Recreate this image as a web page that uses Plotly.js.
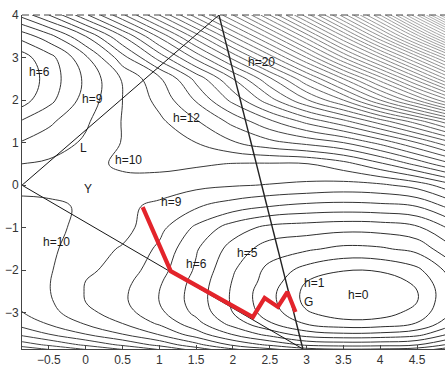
<!DOCTYPE html>
<html><head><meta charset="utf-8">
<script src="https://cdn.plot.ly/plotly-3.0.1.min.js"></script>
<style>html,body{margin:0;padding:0;background:#fff;}#chart{width:445px;height:367px;}</style>
</head><body><div id="chart"></div>
<script>
// grid coordinates of the height field
const gridX = [-1, -0.5, 0, 0.5, 1, 1.5, 2, 2.5, 3, 3.5, 4, 4.5, 5];
const gridY = [-4, -3.75, -3.5, -3.25, -3, -2.75, -2.5, -2.25, -2, -1.5, -1, -0.5, 0, 0.5, 1, 1.5, 2, 2.5, 3, 3.5, 4];
// one row of estimated heights per y value
const hRowM400 = [17.5, 16.5, 15.5, 14.5, 13.5, 12.2, 10.9, 10.1, 9.4, 9.0, 9.1, 9.4, 10.6];
const hRowM375 = [14.8, 13.8, 12.8, 11.8, 10.7, 9.3, 7.8, 6.8, 5.8, 5.6, 5.65, 5.94, 7.35];
const hRowM350 = [13.0, 12.0, 11.0, 10.0, 8.9, 7.45, 5.9, 4.6, 3.45, 3.15, 3.23, 3.6, 5.2];
const hRowM325 = [11.9, 10.9, 9.9, 9.0, 7.85, 6.35, 4.6, 3.1, 1.9, 1.35, 1.43, 2.05, 3.76];
const hRowM300 = [11.3, 10.35, 9.3, 8.45, 7.25, 5.75, 4.0, 2.5, 1.1, 0.48, 0.56, 1.35, 3.2];
const hRowM275 = [11.0, 10.15, 9.0, 8.2, 7.0, 5.55, 3.85, 2.3, 0.76, 0.1, 0.19, 1.0, 3.05];
const hRowM250 = [10.85, 10.05, 8.95, 8.2, 7.0, 5.55, 3.85, 2.3, 0.73, 0.07, 0.16, 0.97, 3.0];
const hRowM225 = [10.8, 10.05, 9.0, 8.35, 7.15, 5.65, 3.95, 2.55, 1.02, 0.37, 0.45, 1.22, 3.2];
const hRowM200 = [10.8, 10.1, 9.2, 8.6, 7.4, 5.85, 4.1, 2.7, 1.6, 1.05, 1.1, 1.75, 3.5];
const hRowM150 = [10.75, 10.2, 9.45, 8.9, 7.8, 6.1, 4.6, 3.5, 3.15, 2.75, 2.85, 3.3, 4.9];
const hRowM100 = [10.6, 10.25, 9.75, 9.35, 8.3, 6.8, 5.5, 4.7, 4.5, 4.33, 4.4, 4.8, 6.3];
const hRowM050 = [10.3, 10.15, 9.9, 9.2, 8.8, 8.1, 7.5, 7.0, 6.7, 6.6, 6.7, 7.0, 8.4];
const hRowP000 = [9.7, 9.75, 9.6, 9.45, 9.45, 9.25, 9.08, 8.95, 8.8, 8.65, 8.8, 9.4, 10.8];
const hRowP050 = [8.95, 9.15, 9.5, 10.3, 10.35, 10.15, 9.95, 9.9, 9.95, 10.6, 11.8, 13.3, 15.0];
const hRowP100 = [7.9, 8.5, 9.15, 10.05, 10.45, 11.0, 11.9, 12.7, 13.3, 14.0, 15.3, 17.0, 19.0];
const hRowP150 = [6.8, 7.8, 8.85, 10.05, 10.8, 11.9, 13.3, 14.8, 16.3, 17.7, 19.5, 21.5, 24.0];
const hRowP200 = [5.2, 6.7, 8.4, 10.0, 11.3, 13.1, 15.3, 17.6, 19.9, 22.0, 25.0, 28.0, 31.5];
const hRowP250 = [4.8, 6.4, 8.2, 10.1, 11.8, 14.3, 17.0, 19.8, 22.8, 26.0, 29.5, 33.5, 38.0];
const hRowP300 = [5.3, 6.6, 8.8, 11.6, 14.4, 17.3, 20.3, 23.5, 27.0, 31.0, 35.0, 39.5, 44.5];
const hRowP350 = [7.0, 8.6, 11.0, 14.0, 17.2, 20.5, 24.0, 27.5, 31.5, 36.0, 41.0, 46.5, 53.0];
const hRowP400 = [9.8, 12.0, 14.8, 17.8, 21.0, 24.5, 28.0, 32.0, 36.5, 41.5, 47.0, 54.0, 62.0];

// red search path
const pathX = [0.774, 1.155, 2.27, 2.43, 2.61, 2.74, 2.85];
const pathY = [-0.516, -2.02, -3.10, -2.65, -2.86, -2.51, -2.98];

// triangle vertices
const triX = [-0.865, 1.81, 2.95];
const triY = [0, 4, -3.85];

// text labels
const labelText = ['h=6', 'h=9', 'h=12', 'h=20', 'L', 'h=10', 'Y', 'h=10', 'h=9', 'h=5', 'h=6', 'h=1', 'G', 'h=0'];
const labelX = [-0.625, 0.095, 1.37, 2.39, -0.03, 0.58, 0.03, -0.39, 1.17, 2.2, 1.51, 3.11, 3.02, 3.70];
const labelY = [2.65, 2.02, 1.57, 2.89, 0.87, 0.59, -0.09, -1.34, -0.40, -1.6, -1.85, -2.30, -2.75, -2.58];

const zRows = [hRowM400, hRowM375, hRowM350, hRowM325, hRowM300, hRowM275, hRowM250, hRowM225,
  hRowM200, hRowM150, hRowM100, hRowM050, hRowP000, hRowP050, hRowP100, hRowP150,
  hRowP200, hRowP250, hRowP300, hRowP350, hRowP400];

const contour = {
  type: 'contour', x: gridX, y: gridY, z: zRows,
  zauto: false, zmin: 0, zmax: 62,
  contours: {start: 1, end: 62, size: 1, coloring: 'lines', showlabels: false},
  colorscale: [[0, '#2a2a2a'], [0.18, '#3c3c3c'], [0.45, '#7a7a7a'], [1, '#bdbdbd']],
  line: {width: 1, smoothing: 1.1},
  showscale: false, hoverinfo: 'skip'
};
const triThin = {
  type: 'scatter', mode: 'lines',
  x: [triX[0], triX[1], null, triX[0], triX[2]],
  y: [triY[0], triY[1], null, triY[0], triY[2]],
  line: {color: '#151515', width: 1}, hoverinfo: 'skip', showlegend: false
};
const triThick = {
  type: 'scatter', mode: 'lines',
  x: [triX[1], triX[2]], y: [triY[1], triY[2]],
  line: {color: '#222', width: 1.4}, hoverinfo: 'skip', showlegend: false
};
const path = {
  type: 'scatter', mode: 'lines', x: pathX, y: pathY,
  line: {color: '#e3242b', width: 4.2, shape: 'linear'}, hoverinfo: 'skip', showlegend: false
};

const annotations = labelText.map((t, i) => ({
  x: labelX[i], y: labelY[i], xref: 'x', yref: 'y', text: t, showarrow: false,
  font: {family: 'Liberation Sans, Arial, sans-serif', size: 12, color: '#1a1a1a'},
  xanchor: 'center', yanchor: 'middle'
}));

const layout = {
  width: 445, height: 367,
  margin: {l: 22, r: 0, t: 15, b: 18, pad: 0},
  paper_bgcolor: '#fff', plot_bgcolor: '#fff',
  showlegend: false,
  xaxis: {range: [-0.865, 4.88], tick0: 0, dtick: 0.5, ticks: 'inside', ticklen: 4,
    tickcolor: '#444', showline: true, linecolor: '#444', linewidth: 1, showgrid: false,
    zeroline: false, tickfont: {family: 'Liberation Sans, Arial, sans-serif', size: 12, color: '#333'}},
  yaxis: {range: [-3.85, 4], tick0: 0, dtick: 1, ticks: 'inside', ticklen: 4,
    tickcolor: '#444', showline: true, linecolor: '#444', linewidth: 1, showgrid: false,
    zeroline: false, tickfont: {family: 'Liberation Sans, Arial, sans-serif', size: 12, color: '#333'}},
  shapes: [{type: 'line', xref: 'paper', yref: 'paper', x0: 0, x1: 1, y0: 1, y1: 1,
    line: {color: '#444', width: 1, dash: '7px,4px'}}],
  annotations: annotations
};

Plotly.newPlot('chart', [contour, triThin, triThick, path], layout, {displayModeBar: false, staticPlot: true});
</script>
</body></html>
